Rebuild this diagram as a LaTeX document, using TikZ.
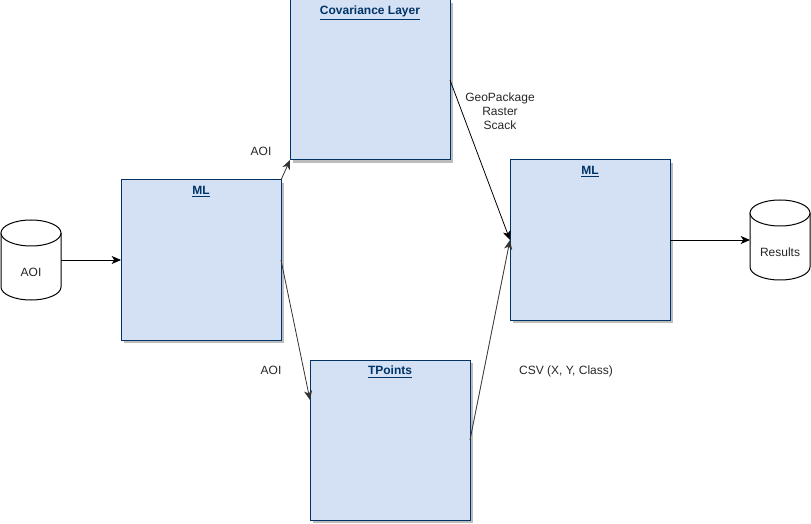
\documentclass[tikz,border=0pt]{standalone}
\usepackage{fontspec}
\setmainfont{Liberation Sans}
\usetikzlibrary{arrows.meta}
\definecolor{boxfill}{HTML}{D4E1F5}
\definecolor{boxdraw}{HTML}{003366}
\definecolor{shadowc}{HTML}{BDBDBD}
\begin{document}
\begin{tikzpicture}[x=0.75pt,y=-0.75pt,
  font=\fontsize{9}{10.5}\selectfont,
  bigbox/.style={minimum width=120pt,minimum height=120pt,inner sep=0pt,outer sep=0pt,
    fill=boxfill,draw=boxdraw,line width=0.75pt},
  cylspot/.style={minimum width=45pt,minimum height=60pt,inner sep=0pt,outer sep=0pt},
  boxtitle/.style={font=\fontsize{9}{10.5}\selectfont\bfseries,text=boxdraw,anchor=north,inner sep=0pt},
  conn/.style={line width=0.6pt,draw=black!80,-{Stealth[length=7pt,width=6pt,inset=2pt]}},
  lbl/.style={inner sep=0pt,align=center,text=black!85}]
\useasboundingbox (0,0) rectangle (811,524);
% shadows
\fill[shadowc] (124,183) rectangle (284,343);
\fill[shadowc] (293,3) rectangle (453,163);
\fill[shadowc] (313,363) rectangle (473,523);
\fill[shadowc] (513,163) rectangle (673,323);
% boxes
\node[bigbox] (ml1) at (201,260) {};
\node[bigbox] (cov) at (370,80) {};
\node[bigbox] (tp) at (390,440) {};
\node[bigbox] (ml2) at (590,240) {};
\node[boxtitle] (ml1t) at (201,186) {\underline{ML}};
\node[boxtitle] (covt) at (370,6) {\underline{Covariance Layer}};
\node[boxtitle] (tpt) at (390,366) {\underline{TPoints}};
\node[boxtitle] (ml2t) at (590,166) {\underline{ML}};
% cylinders
\node[cylspot] (aoi) at (31,260) {};
\node[cylspot] (res) at (780,240) {};
\draw[fill=white,line width=0.75pt] (1,233) -- (1,287) arc[start angle=180,end angle=0,x radius=30,y radius=13] -- (61,233);
\draw[fill=white,line width=0.75pt] (31,233) ellipse[x radius=30,y radius=13];
\draw[fill=white,line width=0.75pt] (750,213) -- (750,267) arc[start angle=180,end angle=0,x radius=30,y radius=13] -- (810,213);
\draw[fill=white,line width=0.75pt] (780,213) ellipse[x radius=30,y radius=13];
\node[lbl] (aoil) at (31,272) {AOI};
\node[lbl] (resl) at (780,252) {Results};
% connectors
\draw[conn,draw=black] (aoi.east) -- (ml1.west);
\draw[conn] (ml1.north east) -- (cov.south west);
\draw[conn] (ml1.east) -- ([yshift=30pt]tp.west);
\draw[conn,draw=black] (cov.east) -- (ml2.west);
\draw[conn] (tp.east) -- (ml2.west);
\draw[conn,draw=black] (ml2.east) -- (res.west);
% labels
\node[lbl] (l1) at (261,151) {AOI};
\node[lbl] (l2) at (271,370) {AOI};
\node[lbl] (l3) at (500,111) {GeoPackage\\Raster\\Scack};
\node[lbl] (l4) at (566,371) {CSV (X, Y, Class)};
\end{tikzpicture}
\end{document}
